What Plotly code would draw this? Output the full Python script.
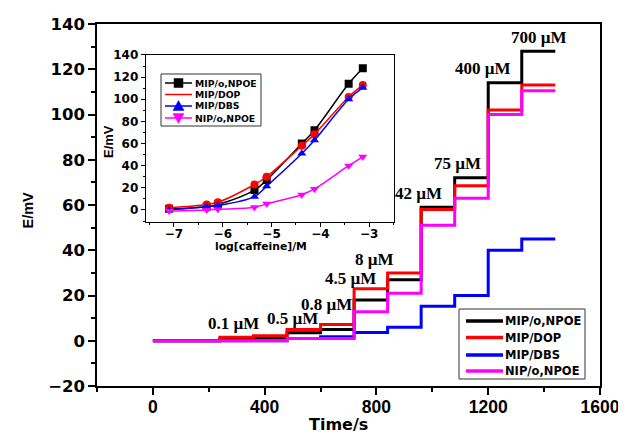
import plotly.graph_objects as go

# ---- main chart data (step responses) ----
times = [0, 240, 360, 480, 600, 720, 840, 960, 1080, 1200, 1320, 1440]
e_npoe = [0, 1, 1.3, 3.5, 5, 18, 27, 59, 72, 114, 128, 128]
e_dop = [0, 1.5, 2.2, 5, 7.2, 23, 30, 58, 68.5, 102, 113, 113]
e_dbs = [0, 0, 0, 1, 1.8, 3.6, 6, 15.3, 20, 40, 45, 45]
e_nip = [0, 0, 0, 1, 1, 12.8, 21, 51, 63, 100, 110.5, 110.5]

series_names = ["MIP/o,NPOE", "MIP/DOP", "MIP/DBS", "NIP/o,NPOE"]
colors = ["#000000", "#ff0000", "#0000ff", "#ff00ff"]

# concentration labels
conc_labels = ["0.1 µM", "0.5 µM", "0.8 µM", "4.5 µM", "8 µM", "42 µM", "75 µM", "400 µM", "700 µM"]
label_t = [287, 500, 622, 708, 794, 952, 1089, 1180, 1382]
label_e = [7.8, 9.9, 16.2, 27.3, 36, 65.2, 78.5, 120.5, 134]

# ---- inset data (calibration) ----
logc = [-7.1, -6.33, -6.1, -5.35, -5.1, -4.38, -4.12, -3.42, -3.13]
cal_npoe = [1, 3, 5, 18, 27, 60, 72, 114, 128]
cal_dop = [2, 5, 7, 23, 30, 58, 68.5, 102, 113]
cal_dbs = [0, 3, 4, 12, 21.5, 51, 63, 100, 110.5]
cal_nip = [-1, 0, 0.6, 2.4, 5.5, 13.8, 19, 40, 48]
symbols = ["square", "circle", "triangle-up", "triangle-down"]

# page has the default 8px body margin; keep the figure inside the window
OFF = 8
W, H = 626 - 2 * OFF, 441 - 2 * OFF
ML, MT = 97 - OFF, 24 - OFF
MR = W - (600 - OFF)
MB = H - (386 - OFF)
PW, PH = W - ML - MR, H - MT - MB

WIDE = "DejaVu Sans"
NARROW = "Liberation Sans"


def px2paper(px, py):
    """page pixel -> paper fraction"""
    return (px - OFF - ML) / PW, (H - MB - (py - OFF)) / PH


fig = go.Figure()

main_series = [e_npoe, e_dop, e_dbs, e_nip]
for name, ys, c in zip(series_names, main_series, colors):
    fig.add_trace(go.Scatter(x=times, y=ys, mode="lines", name=name,
                             line=dict(color=c, width=3, shape="hv"),
                             showlegend=False, xaxis="x", yaxis="y"))

cal_series = [cal_npoe, cal_dop, cal_dbs, cal_nip]
for name, ys, c, s in zip(series_names, cal_series, colors, symbols):
    fig.add_trace(go.Scatter(x=logc, y=ys, mode="lines+markers", name=name,
                             line=dict(color=c, width=1.5, shape="spline"),
                             marker=dict(symbol=s, size=8, color=c),
                             showlegend=False, xaxis="x2", yaxis="y2"))

for txt, t, e in zip(conc_labels, label_t, label_e):
    fig.add_annotation(x=t, y=e, xref="x", yref="y", text=txt, showarrow=False,
                       font=dict(family="Liberation Serif", size=17, color="black", weight="bold"))


def draw_legend(box, rows_dy, line_x, text_x, lw, font_size, with_markers):
    bx0, by0, bx1, by1 = box
    ax, ay = px2paper(bx0, by0)
    fig.add_shape(type="rect", xref="paper", yref="paper", xsizemode="pixel", ysizemode="pixel",
                  xanchor=ax, yanchor=ay, x0=0, x1=bx1 - bx0, y0=0, y1=-(by1 - by0),
                  line=dict(color="#333333", width=1), fillcolor="white", layer="above")
    for name, c, s, dy in zip(series_names, colors, symbols, rows_dy):
        fig.add_shape(type="line", xref="paper", yref="paper", xsizemode="pixel", ysizemode="pixel",
                      xanchor=ax, yanchor=ay, x0=line_x[0] - bx0, x1=line_x[1] - bx0, y0=-dy, y1=-dy,
                      line=dict(color=c, width=lw), layer="above")
        if with_markers:
            cx, cy = (line_x[0] + line_x[1]) / 2 - bx0, -dy
            if s == "square":
                path = f"M{cx-4.5},{cy-4.5} L{cx+4.5},{cy-4.5} L{cx+4.5},{cy+4.5} L{cx-4.5},{cy+4.5} Z"
            elif s == "circle":
                path = f"M{cx-5},{cy} A5,5 0 1,1 {cx+5},{cy} A5,5 0 1,1 {cx-5},{cy} Z"
            elif s == "triangle-up":
                path = f"M{cx-5.5},{cy-4.5} L{cx+5.5},{cy-4.5} L{cx},{cy+5.5} Z"
            else:
                path = f"M{cx-5.5},{cy+4.5} L{cx+5.5},{cy+4.5} L{cx},{cy-5.5} Z"
            fig.add_shape(type="path", xref="paper", yref="paper", xsizemode="pixel", ysizemode="pixel",
                          xanchor=ax, yanchor=ay, path=path, fillcolor=c,
                          line=dict(color=c, width=0.5), layer="above")
        tx, ty = px2paper(text_x, by0 + dy)
        fig.add_annotation(x=tx, y=ty, xref="paper", yref="paper", text=name, showarrow=False,
                           xanchor="left", yanchor="middle", xshift=-2,
                           font=dict(family=WIDE, size=font_size, color="black", weight="bold"))


# inset legend and main legend
draw_legend((161, 74, 261, 126), [9, 20.5, 32, 44], (165, 192), 195, 1.5, 9.3, True)
draw_legend((459, 309, 585, 379), [12, 28.5, 46, 62], (466, 503), 505, 3.5, 11.5, False)


# axis titles placed as text at their page positions
def add_title(text, px, py, size, family, angle=0):
    x, y = px2paper(px, py)
    fig.add_annotation(x=x, y=y, xref="paper", yref="paper", text=text, showarrow=False,
                       xanchor="center", yanchor="middle", textangle=angle,
                       font=dict(family=family, size=size, color="black", weight="bold"))


add_title("Time/s", 338, 424.5, 16, WIDE)
add_title("E/mV", 27, 210.5, 14.5, NARROW, -90)
add_title("log[caffeine]/M", 261, 246.5, 10.8, WIDE)
add_title("E/mV", 108, 142, 13, NARROW, -90)

tickfont_x = dict(family=NARROW, size=17.5, color="black", weight="bold")
tickfont_y = dict(family=WIDE, size=16.5, color="black", weight="bold")
tickfont_in = dict(family=WIDE, size=12, color="black", weight="bold")

fig.update_layout(
    width=W, height=H,
    margin=dict(l=ML, r=MR, t=MT, b=MB, autoexpand=False),
    paper_bgcolor="white", plot_bgcolor="white",
    showlegend=False,
    xaxis=dict(domain=[0, 1], range=[-200, 1600], tickvals=[0, 400, 800, 1200, 1600],
               automargin=False, ticklabeloverflow="allow",
               showgrid=False, zeroline=False, showline=True, linecolor="black", linewidth=1.5,
               mirror=True, ticks="outside", ticklen=7, tickwidth=1.5, tickcolor="black",
               minor=dict(dtick=200, ticks="outside", ticklen=4, tickwidth=1.5, tickcolor="black", showgrid=False),
               tickfont=tickfont_x, ticklabelstandoff=-3),
    yaxis=dict(domain=[0, 1], range=[-20, 140], dtick=20,
               automargin=False, ticklabeloverflow="allow",
               showgrid=False, zeroline=False, showline=True, linecolor="black", linewidth=1.5,
               mirror=True, ticks="outside", ticklen=7, tickwidth=1.5, tickcolor="black",
               minor=dict(dtick=10, ticks="outside", ticklen=4, tickwidth=1.5, tickcolor="black", showgrid=False),
               tickfont=tickfont_y),
    xaxis2=dict(domain=[0.0968, 0.5905], anchor="y2", range=[-7.58, -2.49], dtick=1, tick0=-7,
                automargin=False, ticklabeloverflow="allow",
                showgrid=False, zeroline=False, showline=True, linecolor="black", linewidth=1,
                mirror=True, ticks="outside", ticklen=4, tickwidth=1, tickcolor="black",
                minor=dict(dtick=0.5, ticks="outside", ticklen=2, tickwidth=1, tickcolor="black", showgrid=False),
                tickfont=tickfont_in, ticklabelstandoff=-3),
    yaxis2=dict(domain=[0.4539, 0.9144], anchor="x2", range=[-10.6, 140], dtick=20, tick0=0,
                automargin=False, ticklabeloverflow="allow",
                showgrid=False, zeroline=False, showline=True, linecolor="black", linewidth=1,
                mirror=True, ticks="outside", ticklen=4, tickwidth=1, tickcolor="black",
                minor=dict(dtick=10, ticks="outside", ticklen=2, tickwidth=1, tickcolor="black", showgrid=False),
                tickfont=tickfont_in),
)

fig.write_html("out.html")
